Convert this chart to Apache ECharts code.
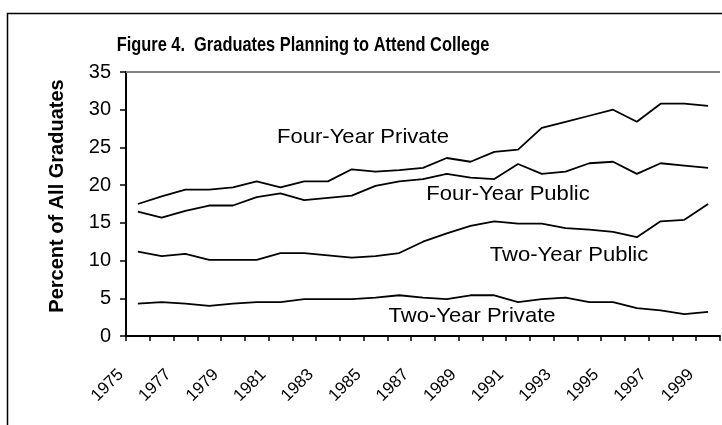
<!DOCTYPE html>
<html>
<head>
<meta charset="utf-8">
<script src="https://cdn.jsdelivr.net/npm/echarts@6/dist/echarts.min.js"></script>
<style>
html,body{margin:0;padding:0;background:#fff;}
#chart{width:722px;height:425px;}
</style>
</head>
<body>
<div id="chart"></div>
<script>
const years = ['1975','1976','1977','1978','1979','1980','1981','1982','1983','1984','1985','1986','1987','1988','1989','1990','1991','1992','1993','1994','1995','1996','1997','1998','1999'];
const fourYearPrivate = [17.5,18.5,19.4,19.4,19.7,20.5,19.7,20.5,20.5,22.1,21.8,22.0,22.3,23.6,23.1,24.4,24.7,27.6,28.4,29.2,30.0,28.4,30.8,30.8,30.5];
const fourYearPublic  = [16.5,15.7,16.6,17.3,17.3,18.4,18.9,18.0,18.3,18.6,19.9,20.5,20.8,21.5,21.0,20.8,22.8,21.5,21.8,22.9,23.1,21.5,22.9,22.6,22.3];
const twoYearPublic   = [11.2,10.6,10.9,10.1,10.1,10.1,11.0,11.0,10.7,10.4,10.6,11.0,12.5,13.6,14.6,15.2,14.9,14.9,14.3,14.1,13.8,13.1,15.2,15.4,17.5];
const twoYearPrivate  = [4.3,4.5,4.3,4.0,4.3,4.5,4.5,4.9,4.9,4.9,5.1,5.4,5.1,4.9,5.4,5.4,4.5,4.9,5.1,4.5,4.5,3.7,3.4,2.9,3.2];
const yTicks = {min:0, max:35, interval:5};

const FONT = "'Liberation Sans', Arial, sans-serif";
const chart = echarts.init(document.getElementById('chart'), null, {renderer:'canvas'});

function lineSeries(name, data, extra){
  return Object.assign({
    name: name, type:'line', data: data, symbol:'none', animation:false,
    lineStyle:{color:'#000', width:1.8}, itemStyle:{color:'#000'}
  }, extra||{});
}
function label(text, x, y){
  return {type:'text', x:x, y:y, scaleX:1.05, style:{text:text, font:"21px 'Liberation Sans', Arial", textAlign:'center', textVerticalAlign:'middle', fill:'#000'}};
}

chart.setOption({
  animation:false,
  backgroundColor:'#fff',
  grid:{left:126, top:72, right:2, bottom:89, containLabel:false},
  xAxis:{
    type:'category', data: years, boundaryGap:true,
    axisLine:{show:true, lineStyle:{color:'#000', width:2}},
    axisTick:{show:true, interval:0, length:5, lineStyle:{color:'#000', width:1.5}},
    axisLabel:{interval:1, rotate:45, fontSize:17, color:'#000', fontFamily:FONT, margin:19, padding:[0,24,0,0]},
    splitLine:{show:false}
  },
  yAxis:{
    type:'value', min:yTicks.min, max:yTicks.max, interval:yTicks.interval,
    axisLine:{show:true, lineStyle:{color:'#000', width:2}},
    axisTick:{show:true, length:6, lineStyle:{color:'#000', width:1.5}},
    axisLabel:{fontSize:20, color:'#000', fontFamily:FONT, margin:15},
    splitLine:{show:false}
  },
  series:[
    lineSeries('Four-Year Private', fourYearPrivate, {
      markLine:{silent:true, symbol:'none', label:{show:false},
        lineStyle:{color:'#808080', width:2, type:'solid'},
        data:[{yAxis:yTicks.max}]}
    }),
    lineSeries('Four-Year Public', fourYearPublic),
    lineSeries('Two-Year Public', twoYearPublic),
    lineSeries('Two-Year Private', twoYearPrivate)
  ],
  graphic:[
    {type:'rect', shape:{x:7.5, y:13.5, width:900, height:600}, style:{fill:'none', stroke:'#000', lineWidth:1.5}, z:100},
    {type:'text', x:303, y:45, scaleX:0.8, style:{text:'Figure 4.  Graduates Planning to Attend College', font:"bold 20.5px 'Liberation Sans', Arial", textAlign:'center', textVerticalAlign:'middle', fill:'#000'}},
    {type:'text', x:57, y:196, rotation:Math.PI/2, style:{text:'Percent of All Graduates', font:"bold 20px 'Liberation Sans', Arial", textAlign:'center', textVerticalAlign:'middle', fill:'#000'}},
    label('Four-Year Private', 363, 137),
    label('Four-Year Public', 508, 194),
    label('Two-Year Public', 569, 255),
    label('Two-Year Private', 472, 316)
  ]
});
</script>
</body>
</html>
